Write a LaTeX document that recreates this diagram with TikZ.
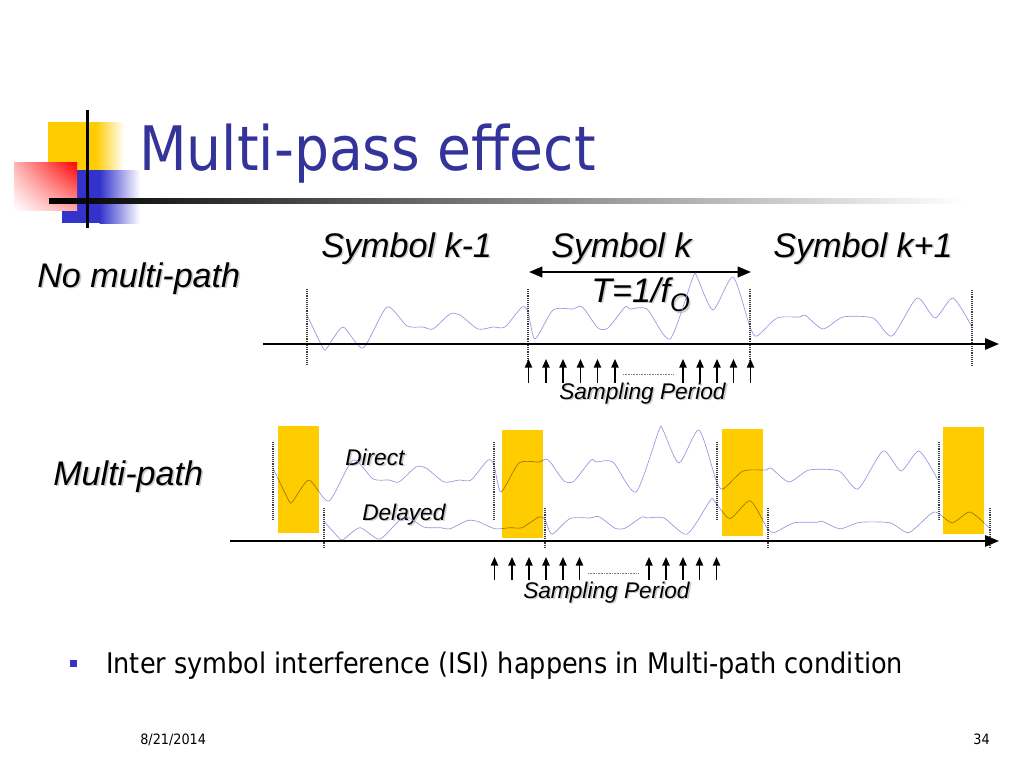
\documentclass[tikz,border=0pt]{standalone}
\usepackage{fontspec}
\setmainfont{Liberation Sans}
\newfontfamily\tah{DejaVu Sans Condensed}
\usetikzlibrary{arrows.meta,shadings}
\definecolor{titleblue}{RGB}{51,51,153}
\definecolor{gold}{RGB}{255,204,0}
\definecolor{wave}{RGB}{150,150,225}
\definecolor{sqblue}{RGB}{51,51,204}
\definecolor{dotgray}{RGB}{60,60,60}
\newcommand\shd[1]{\leavevmode\rlap{\kern1.2pt\raisebox{-1.2pt}{\color{black!20}#1}}#1}
\tikzset{
  lbl/.style={inner sep=0pt, anchor=base west, font=\fontsize{25.6}{28}\selectfont\itshape},
  slbl/.style={inner sep=0pt, anchor=base west, font=\fontsize{17}{19}\selectfont\itshape},
  axis/.style={line width=1.4pt, -{Triangle[length=10.5pt,width=8.5pt]}},
  samp/.style={line width=1.1pt, -{Triangle[length=6.5pt,width=5.5pt]}},
  bound/.style={dotgray, line width=1.1pt, dash pattern=on 0.7pt off 0.7pt},
  dots/.style={gray, line width=0.6pt, dash pattern=on 0.6pt off 0.6pt},
  wv/.style={wave, line width=0.5pt},
  pulse/.style={fill=gold, blend mode=multiply},
}
\newcommand\wavepath{plot[smooth, tension=0.4] coordinates {(307,315) (323,348) (327,348) (343,327) (363,348) (387,307) (407,326) (423,327) (433,329) (450,314) (460,315) (478,329) (493,327) (505,327) (522,307) (528,312) (535,339) (553,310) (573,309) (580,306) (585,310) (598,328) (608,328) (625,307) (630,309) (647,309) (670,339) (693,277) (697,277) (713,310) (733,277) (750,327) (757,336) (777,318) (800,317) (805,315) (823,329) (843,317) (873,318) (892,336) (917,298) (935,318) (953,298) (972,327)}}
\begin{document}
\begin{tikzpicture}[x=0.75pt,y=-0.75pt]
\useasboundingbox (0,0) rectangle (1024,768);
% header decoration
\fill[gold] (48,122) rectangle (96,170);
\shade[left color=gold, right color=white] (95.5,122) rectangle (124,170);
\fill[sqblue] (62,170) rectangle (100,223);
\shade[left color=sqblue, right color=white] (99.5,170) rectangle (140,223);
\shade[upper right=red, upper left=red!30, lower right=red!35, lower left=white] (14,162) rectangle (77,210);
\shade[left color=black, middle color=black!33, right color=white] (49,198.5) rectangle (965,203);
\draw[line width=2.25pt] (87,110) -- (87,228);
\node[inner sep=0pt, anchor=base west, text=titleblue, font=\tah\fontsize{46}{50}\selectfont] (title) at (139,170) {Multi-pass effect};

% ---------- no multi-path ----------
\node[lbl] (nomp) at (37,287) {\shd{No multi-path}};
\node[lbl] (symkm) at (321,257) {\shd{Symbol k-1}};
\node[lbl] (symk) at (551,257) {\shd{Symbol k}};
\node[lbl] (symkp) at (773,257) {\shd{Symbol k+1}};
\coordinate (da) at (529,272);
\coordinate (db) at (751,272);
\draw[line width=1.4pt, {Triangle[length=10pt,width=8pt]}-{Triangle[length=10pt,width=8pt]}] (da) -- (db);
\node[lbl] (period) at (591,302) {\shd{T=1/f\raisebox{-0.28em}{\fontsize{19}{20}\selectfont O}}};

\draw[wv] \wavepath;
\foreach \x/\t/\b [count=\i] in {307/289/365, 528/289/360, 750/289/360, 972/290/365}{
  \coordinate (ut\i) at (\x,\t); \coordinate (ub\i) at (\x,\b);
  \draw[bound] (ut\i) -- (ub\i);
}
\coordinate (ax1) at (263,344);
\coordinate (ax2) at (999,344);
\draw[axis] (ax1) -- (ax2);
\foreach \x [count=\i] in {528.5,546,563,580.5,597.5,615,683,700,717,733.5,750.5}{
  \coordinate (sa\i) at (\x,383); \coordinate (sb\i) at (\x,359);
  \draw[samp] (sa\i) -- (sb\i);
}
\coordinate (ud1) at (623,374.5); \coordinate (ud2) at (673,374.5);
\draw[dots] (ud1) -- (ud2);
\node[slbl] (samp1) at (559,399) {\shd{Sampling Period}};

% ---------- multi-path ----------
\node[lbl] (mp) at (53,485) {\shd{Multi-path}};
\node[slbl] (direct) at (345,465) {\shd{Direct}};
\node[slbl] (delayed) at (362,520) {\shd{Delayed}};

\begin{scope}[shift={(-34,153)}]
  \draw[wv] \wavepath;
\end{scope}
\begin{scope}[shift={(17,351.1)}, yscale=0.54]
  \draw[wv] \wavepath;
\end{scope}
\foreach \x [count=\i] in {273,494,717,939}{
  \coordinate (lt\i) at (\x,442); \coordinate (lb\i) at (\x,519);
  \draw[bound] (lt\i) -- (lb\i);
}
\foreach \x [count=\i] in {324,545,768,990}{
  \coordinate (mt\i) at (\x,508); \coordinate (mb\i) at (\x,548);
  \draw[bound] (mt\i) -- (mb\i);
}
\fill[pulse] (278,426) rectangle (319,533);
\fill[pulse] (502,430) rectangle (543,538);
\fill[pulse] (722,429) rectangle (763,536);
\fill[pulse] (943,427) rectangle (984,534);
\coordinate (bx1) at (230,541);
\coordinate (bx2) at (999,541);
\draw[axis] (bx1) -- (bx2);
\foreach \x [count=\i] in {494.5,512,529,546,563,579.5,649,666,683,699.5,716.5}{
  \coordinate (la\i) at (\x,580); \coordinate (lc\i) at (\x,557);
  \draw[samp] (la\i) -- (lc\i);
}
\coordinate (ld1) at (588,573); \coordinate (ld2) at (639,573);
\draw[dots] (ld1) -- (ld2);
\node[slbl] (samp2) at (523,598) {\shd{Sampling Period}};

% ---------- bullet and footer ----------
\fill[sqblue] (70,660) rectangle (77,667);
\node[inner sep=0pt, anchor=base west, font=\tah\fontsize{21.3}{24}\selectfont] (isi) at (106,673) {Inter symbol interference (ISI) happens in Multi-path condition};
\node[inner sep=0pt, anchor=base west, font=\tah\fontsize{10.7}{12}\selectfont] (date) at (140,744) {8/21/2014};
\node[inner sep=0pt, anchor=base east, font=\tah\fontsize{10.7}{12}\selectfont] (page) at (990,744) {34};
\end{tikzpicture}
\end{document}
